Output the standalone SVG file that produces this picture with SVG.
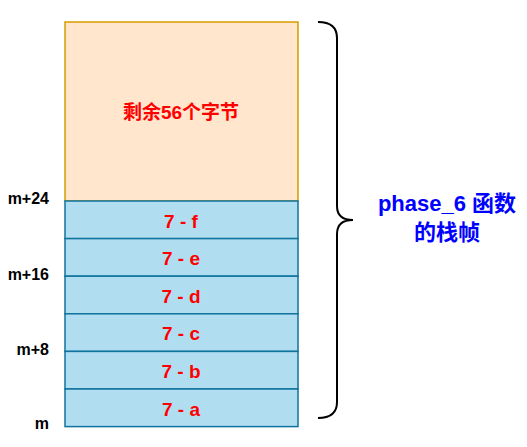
<svg xmlns="http://www.w3.org/2000/svg" width="527" height="447" viewBox="0 0 527 447">
<style>
.cell{fill:#b1ddf0;stroke:#10739e;stroke-width:1.5}
.top{fill:#ffe6cc;stroke:#d79b00;stroke-width:1.5}
.red{font-family:"Liberation Sans","Noto Sans CJK SC",sans-serif;font-weight:bold;font-size:19px;fill:#ff0000;text-anchor:middle}
.addr{font-family:"Liberation Sans",sans-serif;font-weight:bold;font-size:16px;fill:#000;text-anchor:end}
.blue{font-family:"Liberation Sans","Noto Sans CJK SC",sans-serif;font-weight:bold;font-size:22px;fill:#0000ff;text-anchor:middle}
</style>
<rect width="527" height="447" fill="#ffffff"/>
<g id="remaining">
<rect class="top" x="65" y="22" width="233" height="179"/>
<text class="red" x="181" y="119">剩余56个字节</text>
</g>
<g id="cell-f"><rect class="cell" x="65" y="201" width="233" height="37.6"/><text class="red" x="181" y="227.5">7 - f</text></g>
<g id="cell-e"><rect class="cell" x="65" y="238.6" width="233" height="37.6"/><text class="red" x="181" y="265.1">7 - e</text></g>
<g id="cell-d"><rect class="cell" x="65" y="276.2" width="233" height="37.6"/><text class="red" x="181" y="302.7">7 - d</text></g>
<g id="cell-c"><rect class="cell" x="65" y="313.8" width="233" height="37.6"/><text class="red" x="181" y="340.3">7 - c</text></g>
<g id="cell-b"><rect class="cell" x="65" y="351.4" width="233" height="37.6"/><text class="red" x="181" y="377.9">7 - b</text></g>
<g id="cell-a"><rect class="cell" x="65" y="389" width="233" height="37.6"/><text class="red" x="181" y="415.5">7 - a</text></g>
<g id="addresses">
<text class="addr" x="49" y="204">m+24</text>
<text class="addr" x="49" y="280">m+16</text>
<text class="addr" x="49" y="355">m+8</text>
<text class="addr" x="49" y="429">m</text>
</g>
<g id="connectors">
<path d="M318,22 Q337,22 337,38 L337,206 Q337,220 353,220 Q337,220 337,234 L337,402 Q337,418 318,418" fill="none" stroke="#000" stroke-width="2"/>
</g>
<g id="frame-label">
<text class="blue" x="447" y="211">phase_6 函数</text>
<text class="blue" x="447" y="240">的栈帧</text>
</g>
</svg>
